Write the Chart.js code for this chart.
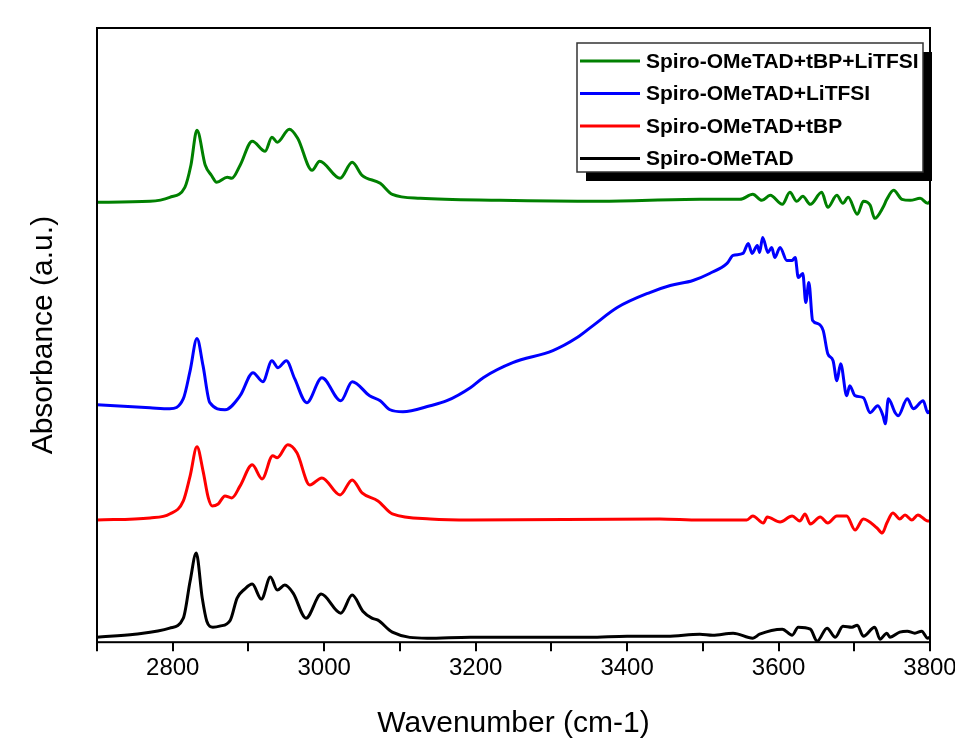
<!DOCTYPE html>
<html>
<head>
<meta charset="utf-8">
<script src="https://cdn.jsdelivr.net/npm/chart.js@4/dist/chart.umd.min.js"></script>
<style>
  html, body { margin: 0; padding: 0; background: #fff; }
  #wrap { width: 955px; height: 754px; }
</style>
</head>
<body>
<div id="wrap"><canvas id="ftirChart" width="955" height="754"></canvas></div>
<script>
// Series labels and colours (legend order)
var seriesLabels = ['Spiro-OMeTAD+tBP+LiTFSI', 'Spiro-OMeTAD+LiTFSI', 'Spiro-OMeTAD+tBP', 'Spiro-OMeTAD'];
var seriesColors = ['#008000', '#0000ff', '#ff0000', '#000000'];

// x tick labels (every other tick is unlabelled)
var xTickLabels = [2800, 3000, 3200, 3400, 3600, 3800];

// Spiro-OMeTAD+tBP+LiTFSI (green)
var greenWn  = [2700, 2770, 2796, 2816, 2824, 2832, 2843, 2851, 2858, 2872, 2878, 2889, 2905, 2922, 2931, 2938, 2954, 2965, 2984, 2994, 3021, 3037, 3050, 3074, 3090, 3127, 3232, 3364, 3496, 3549, 3566, 3578, 3589, 3605, 3615, 3624, 3632, 3642, 3657, 3665, 3677, 3685, 3692, 3704, 3712, 3721, 3727, 3738, 3743, 3752, 3763, 3774, 3787, 3797, 3800];
var greenAbs = [439, 440, 444, 454, 476, 511, 476, 466, 459, 464, 463, 476, 500, 490, 504, 499, 512, 503, 471, 480, 463, 479, 466, 458, 447, 443, 441, 440, 442, 442, 447, 441, 446, 437, 449, 440, 445, 437, 449, 434, 446, 438, 444, 427, 440, 436, 423, 434, 442, 451, 442, 441, 443, 438, 440];

// Spiro-OMeTAD+LiTFSI (blue)
var blueWn  = [2700, 2770, 2796, 2814, 2823, 2832, 2840, 2849, 2869, 2889, 2906, 2919, 2931, 2939, 2950, 2961, 2977, 2997, 3022, 3037, 3060, 3074, 3087, 3104, 3140, 3162, 3193, 3210, 3249, 3302, 3334, 3355, 3387, 3430, 3457, 3487, 3509, 3532, 3540, 3553, 3560, 3565, 3572, 3575, 3579, 3586, 3591, 3595, 3602, 3611, 3618, 3622, 3626, 3632, 3636, 3640, 3645, 3652, 3659, 3665, 3672, 3677, 3682, 3690, 3694, 3701, 3712, 3721, 3731, 3738, 3741, 3745, 3754, 3758, 3770, 3778, 3791, 3797, 3800];
var blueAbs = [237, 234, 233, 243, 271, 303, 276, 239, 232, 246, 269, 260, 281, 274, 281, 263, 239, 264, 241, 260, 246, 241, 232, 230, 236, 241, 254, 264, 279, 291, 304, 316, 334, 349, 356, 361, 368, 378, 386, 388, 398, 388, 396, 389, 404, 389, 394, 384, 394, 381, 381, 384, 364, 368, 339, 359, 321, 318, 311, 288, 281, 261, 278, 246, 256, 246, 244, 229, 236, 226, 218, 243, 229, 226, 243, 233, 241, 229, 231];

// Spiro-OMeTAD+tBP (red)
var redWn  = [2700, 2770, 2796, 2814, 2823, 2832, 2840, 2847, 2852, 2860, 2869, 2878, 2889, 2905, 2918, 2932, 2938, 2952, 2964, 2981, 2997, 3021, 3037, 3050, 3071, 3090, 3140, 3193, 3443, 3496, 3558, 3566, 3580, 3585, 3602, 3618, 3628, 3635, 3642, 3655, 3665, 3677, 3690, 3701, 3712, 3730, 3737, 3743, 3751, 3760, 3767, 3776, 3784, 3797, 3800];
var redAbs = [122, 124, 128, 141, 166, 195, 171, 144, 136, 138, 146, 144, 156, 177, 163, 186, 184, 197, 189, 157, 164, 147, 162, 149, 141, 128, 123, 122, 123, 122, 122, 126, 119, 125, 120, 126, 121, 128, 118, 125, 119, 126, 126, 112, 123, 114, 109, 119, 129, 123, 127, 122, 127, 121, 121];

// Spiro-OMeTAD (black)
var blackWn  = [2700, 2750, 2796, 2814, 2823, 2831, 2839, 2845, 2853, 2862, 2876, 2885, 2895, 2905, 2917, 2929, 2938, 2948, 2959, 2976, 2996, 3022, 3037, 3051, 3063, 3071, 3090, 3136, 3193, 3250, 3300, 3350, 3400, 3453, 3496, 3513, 3540, 3566, 3575, 3605, 3618, 3626, 3642, 3651, 3664, 3675, 3685, 3697, 3704, 3712, 3727, 3734, 3743, 3747, 3760, 3770, 3780, 3789, 3797, 3800];
var blackAbs = [5, 8, 14, 24, 61, 89, 44, 21, 15, 16, 22, 44, 53, 58, 43, 65, 52, 57, 49, 24, 48, 29, 47, 31, 24, 22, 10, 4, 5, 5, 5, 5, 6, 6, 8, 7, 9, 4, 8, 13, 7, 15, 13, 1, 14, 5, 16, 15, 17, 6, 15, 3, 9, 5, 10, 11, 9, 11, 4, 5];

function toPoints(xs, ys) {
  return xs.map(function (x, i) { return { x: x, y: ys[i] }; });
}

var seriesData = [
  toPoints(greenWn, greenAbs),
  toPoints(blueWn, blueAbs),
  toPoints(redWn, redAbs),
  toPoints(blackWn, blackAbs)
];

var fontFamily = '"Liberation Sans", Arial, sans-serif';

// frame around the plot area
var framePlugin = {
  id: 'frame',
  afterDraw: function (chart) {
    var a = chart.chartArea, c = chart.ctx;
    c.save();
    c.strokeStyle = '#000';
    c.lineWidth = 2;
    c.strokeRect(a.left, a.top, a.right - a.left, a.bottom - a.top);
    c.restore();
  }
};

// Origin-style legend box with drop shadow
var boxLegend = {
  id: 'boxLegend',
  afterDraw: function (chart) {
    var c = chart.ctx;
    var x = 577, y = 43, w = 346, h = 129;
    c.save();
    c.fillStyle = '#000';
    c.fillRect(x + 9, y + 9, w, h);
    c.fillStyle = '#fff';
    c.fillRect(x, y, w, h);
    c.strokeStyle = '#333';
    c.lineWidth = 1.5;
    c.strokeRect(x, y, w, h);
    c.font = 'bold 21px ' + fontFamily;
    c.textBaseline = 'middle';
    chart.data.datasets.forEach(function (ds, i) {
      var ry = 61 + i * 32.5;
      c.strokeStyle = ds.borderColor;
      c.lineWidth = 3;
      c.beginPath();
      c.moveTo(580, ry);
      c.lineTo(640, ry);
      c.stroke();
      c.fillStyle = '#000';
      c.fillText(ds.label, 646, ry + 1);
    });
    c.restore();
  }
};

var ctx = document.getElementById('ftirChart').getContext('2d');

var ftirChart = new Chart(ctx, {
  type: 'line',
  data: {
    datasets: seriesLabels.map(function (lbl, i) {
      return {
        label: lbl,
        data: seriesData[i],
        borderColor: seriesColors[i],
        borderWidth: 3,
        pointRadius: 0,
        fill: false,
        cubicInterpolationMode: 'monotone'
      };
    })
  },
  options: {
    responsive: false,
    animation: false,
    layout: { padding: { left: 26, right: 25, top: 28, bottom: 12 } },
    plugins: {
      legend: { display: false },
      tooltip: { enabled: false }
    },
    scales: {
      x: {
        type: 'linear',
        min: 2700,
        max: 3800,
        border: { display: false },
        grid: {
          drawOnChartArea: false,
          drawTicks: true,
          tickLength: 9,
          color: '#000',
          lineWidth: 2
        },
        ticks: {
          stepSize: 100,
          autoSkip: false,
          maxRotation: 0,
          padding: 3,
          color: '#000',
          font: { family: fontFamily, size: 24 },
          callback: function (v) {
            return xTickLabels.indexOf(v) >= 0 ? String(v) : '';
          }
        },
        title: {
          display: true,
          text: 'Wavenumber (cm-1)',
          color: '#000',
          font: { family: fontFamily, size: 30 },
          padding: { top: 20, bottom: 0 }
        },
        // let the last tick label run off the canvas edge, like the original
        afterFit: function (scale) {
          scale.paddingRight = 0;
          scale.paddingLeft = 0;
        }
      },
      y: {
        min: 0,
        max: 613,
        border: { display: false },
        grid: { display: false },
        ticks: { display: false },
        title: {
          display: true,
          text: 'Absorbance (a.u.)',
          color: '#000',
          font: { family: fontFamily, size: 30 },
          padding: { top: 0, bottom: 27 }
        }
      }
    }
  },
  plugins: [framePlugin, boxLegend]
});
</script>
</body>
</html>
